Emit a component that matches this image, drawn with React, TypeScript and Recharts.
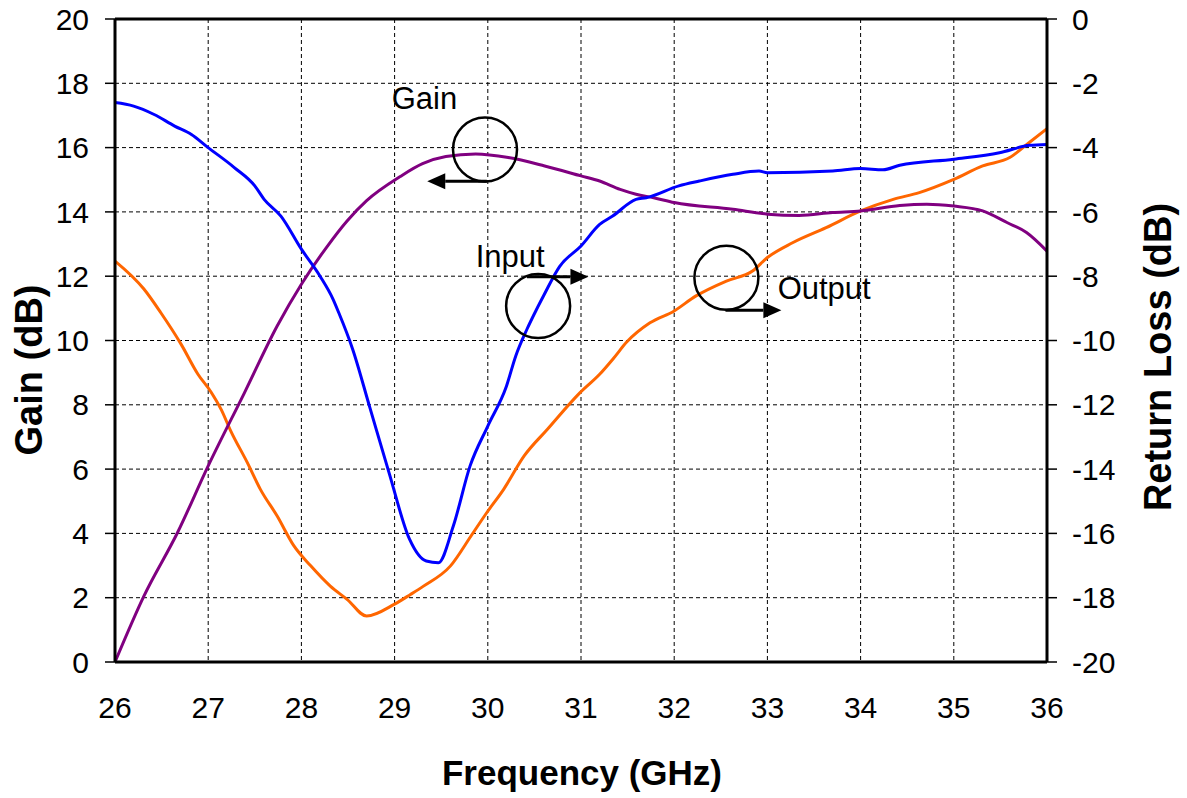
import React from 'react';
import {
  LineChart,
  Line,
  XAxis,
  YAxis,
  CartesianGrid,
  ReferenceLine,
  ReferenceDot,
} from 'recharts';

// frequency ticks (GHz)
const freqTicks = [26, 27, 28, 29, 30, 31, 32, 33, 34, 35, 36];
const gainTicks = [0, 2, 4, 6, 8, 10, 12, 14, 16, 18, 20];
const lossTicks = [-20, -18, -16, -14, -12, -10, -8, -6, -4, -2, 0];

// Gain (dB), left axis
const gainData = [
  { f: 26.0, v: 0 },
  { f: 26.31, v: 2.05 },
  { f: 26.67, v: 4.02 },
  { f: 27.0, v: 6.1 },
  { f: 27.39, v: 8.38 },
  { f: 27.74, v: 10.45 },
  { f: 28.0, v: 11.75 },
  { f: 28.27, v: 12.9 },
  { f: 28.49, v: 13.72 },
  { f: 28.7, v: 14.35 },
  { f: 29.06, v: 15.1 },
  { f: 29.3, v: 15.5 },
  { f: 29.55, v: 15.72 },
  { f: 29.87, v: 15.8 },
  { f: 30.22, v: 15.69 },
  { f: 30.61, v: 15.43 },
  { f: 31.0, v: 15.12 },
  { f: 31.2, v: 14.96 },
  { f: 31.42, v: 14.7 },
  { f: 31.59, v: 14.55 },
  { f: 31.78, v: 14.44 },
  { f: 32.0, v: 14.29 },
  { f: 32.63, v: 14.08 },
  { f: 33.0, v: 13.93 },
  { f: 33.34, v: 13.89 },
  { f: 33.7, v: 13.98 },
  { f: 34.0, v: 14.03 },
  { f: 34.42, v: 14.2 },
  { f: 34.71, v: 14.24 },
  { f: 35.0, v: 14.18 },
  { f: 35.31, v: 14.03 },
  { f: 35.57, v: 13.67 },
  { f: 35.78, v: 13.36 },
  { f: 36.0, v: 12.78 },
];

// Input return loss (dB), right axis
const inputData = [
  { f: 26.0, v: -2.6 },
  { f: 26.2, v: -2.71 },
  { f: 26.42, v: -2.97 },
  { f: 26.64, v: -3.33 },
  { f: 26.82, v: -3.59 },
  { f: 27.0, v: -4.0 },
  { f: 27.28, v: -4.62 },
  { f: 27.5, v: -5.19 },
  { f: 27.6, v: -5.61 },
  { f: 27.78, v: -6.13 },
  { f: 28.0, v: -7.16 },
  { f: 28.2, v: -8.0 },
  { f: 28.34, v: -8.72 },
  { f: 28.4, v: -9.13 },
  { f: 28.55, v: -10.27 },
  { f: 28.73, v: -12.04 },
  { f: 28.94, v: -14.11 },
  { f: 29.16, v: -16.18 },
  { f: 29.34, v: -16.86 },
  { f: 29.47, v: -16.91 },
  { f: 29.63, v: -15.77 },
  { f: 29.81, v: -13.9 },
  { f: 30.0, v: -12.66 },
  { f: 30.2, v: -11.42 },
  { f: 30.3, v: -10.48 },
  { f: 30.42, v: -9.65 },
  { f: 30.52, v: -9.05 },
  { f: 30.6, v: -8.6 },
  { f: 30.77, v: -7.7 },
  { f: 31.0, v: -7.06 },
  { f: 31.2, v: -6.39 },
  { f: 31.34, v: -6.13 },
  { f: 31.59, v: -5.61 },
  { f: 31.7, v: -5.56 },
  { f: 32.05, v: -5.19 },
  { f: 32.27, v: -5.04 },
  { f: 32.63, v: -4.83 },
  { f: 32.91, v: -4.73 },
  { f: 33.0, v: -4.78 },
  { f: 33.7, v: -4.73 },
  { f: 34.0, v: -4.65 },
  { f: 34.24, v: -4.69 },
  { f: 34.42, v: -4.55 },
  { f: 35.0, v: -4.36 },
  { f: 35.49, v: -4.16 },
  { f: 35.81, v: -3.93 },
  { f: 36.0, v: -3.9 },
];

// Output return loss (dB), right axis
const outputData = [
  { f: 26.0, v: -7.53 },
  { f: 26.31, v: -8.4 },
  { f: 26.49, v: -9.13 },
  { f: 26.71, v: -10.12 },
  { f: 26.89, v: -11.05 },
  { f: 27.03, v: -11.6 },
  { f: 27.14, v: -12.15 },
  { f: 27.24, v: -12.8 },
  { f: 27.42, v: -13.8 },
  { f: 27.56, v: -14.63 },
  { f: 27.74, v: -15.46 },
  { f: 27.92, v: -16.39 },
  { f: 28.1, v: -17.01 },
  { f: 28.31, v: -17.64 },
  { f: 28.49, v: -18.05 },
  { f: 28.7, v: -18.57 },
  { f: 29.0, v: -18.2 },
  { f: 29.17, v: -17.9 },
  { f: 29.31, v: -17.64 },
  { f: 29.6, v: -17.01 },
  { f: 29.82, v: -16.08 },
  { f: 29.99, v: -15.35 },
  { f: 30.17, v: -14.63 },
  { f: 30.39, v: -13.59 },
  { f: 30.64, v: -12.76 },
  { f: 30.99, v: -11.62 },
  { f: 31.2, v: -11.05 },
  { f: 31.35, v: -10.55 },
  { f: 31.49, v: -10.05 },
  { f: 31.74, v: -9.45 },
  { f: 32.0, v: -9.08 },
  { f: 32.23, v: -8.62 },
  { f: 32.56, v: -8.15 },
  { f: 32.84, v: -7.84 },
  { f: 33.0, v: -7.42 },
  { f: 33.27, v: -6.96 },
  { f: 33.63, v: -6.49 },
  { f: 34.0, v: -5.97 },
  { f: 34.35, v: -5.61 },
  { f: 34.63, v: -5.4 },
  { f: 35.0, v: -4.99 },
  { f: 35.31, v: -4.57 },
  { f: 35.6, v: -4.31 },
  { f: 35.81, v: -3.84 },
  { f: 36.0, v: -3.41 },
];

// annotation circles / arrows / labels, in (GHz, gain dB) coordinates
const circles = [
  { f: 29.97, v: 15.94 },
  { f: 30.54, v: 11.07 },
  { f: 32.56, v: 11.95 },
];
const arrows = [
  { f1: 29.99, f2: 29.35, v: 14.95 },
  { f1: 30.42, f2: 31.08, v: 11.98 },
  { f1: 32.55, f2: 33.15, v: 10.94 },
];
const notes = [
  { text: 'Gain', f: 29.32, v: 17.19, anchor: 'middle' },
  { text: 'Input', f: 30.24, v: 12.3, anchor: 'middle' },
  { text: 'Output', f: 33.11, v: 11.28, anchor: 'start' },
];

const FONT = '"Liberation Sans", Arial, sans-serif';
const tickStyle = { fontSize: 30, fill: '#000', fontFamily: FONT };
const noteStyle = { fontSize: 31, fill: '#000', fontFamily: FONT };
const titleStyle = { fontSize: 35, fontWeight: 700, fill: '#000', fontFamily: FONT };
const sideTitleStyle = { ...titleStyle, fontSize: 38 };

const Arrow = (props: any) => {
  const { x1, y1, x2, y2 } = props;
  const dir = x2 > x1 ? 1 : -1;
  const head = 18;
  const half = 8;
  const bx = x2 - dir * head;
  return (
    <g>
      <line x1={x1} y1={y1} x2={bx} y2={y2} stroke="#000" strokeWidth={3} />
      <polygon points={`${x2},${y2} ${bx},${y2 - half} ${bx},${y2 + half}`} fill="#000" />
    </g>
  );
};

export default function App() {
  return (
    <div style={{ position: 'absolute', left: 0, top: 0, background: '#fff' }}>
      <LineChart width={1187} height={798} margin={{ top: 19, right: 0, bottom: 0, left: 0 }}>
        <CartesianGrid
          xAxisId="x"
          yAxisId="left"
          stroke="#000"
          strokeWidth={1}
          strokeDasharray="4 3"
        />
        <XAxis
          xAxisId="x"
          dataKey="f"
          type="number"
          domain={[26, 36]}
          ticks={freqTicks}
          allowDataOverflow
          height={136}
          tickLine={false}
          tickSize={0}
          tickMargin={35}
          axisLine={{ stroke: '#000', strokeWidth: 3 }}
          tick={tickStyle}
          label={() => (
            <text x={582} y={785} textAnchor="middle" style={titleStyle}>
              Frequency (GHz)
            </text>
          )}
        />
        <YAxis
          yAxisId="left"
          orientation="left"
          type="number"
          domain={[0, 20]}
          ticks={gainTicks}
          width={115}
          tickSize={10}
          tickMargin={16}
          tickLine={{ stroke: '#000', strokeWidth: 1.5 }}
          axisLine={{ stroke: '#000', strokeWidth: 3 }}
          tick={tickStyle}
          label={() => (
            <text
              x={42}
              y={370}
              textAnchor="middle"
              transform="rotate(-90 42 370)"
              style={sideTitleStyle}
            >
              Gain (dB)
            </text>
          )}
        />
        <YAxis
          yAxisId="right"
          orientation="right"
          type="number"
          domain={[-20, 0]}
          ticks={lossTicks}
          width={140}
          tickSize={10}
          tickMargin={15}
          tickLine={{ stroke: '#000', strokeWidth: 1.5 }}
          axisLine={{ stroke: '#000', strokeWidth: 3 }}
          tick={tickStyle}
          label={() => (
            <text
              x={1171}
              y={357}
              textAnchor="middle"
              transform="rotate(-90 1171 357)"
              style={sideTitleStyle}
            >
              Return Loss (dB)
            </text>
          )}
        />
        <ReferenceLine xAxisId="x" yAxisId="left" y={20} stroke="#000" strokeWidth={3} />

        <Line
          xAxisId="x"
          yAxisId="right"
          data={outputData}
          dataKey="v"
          type="monotone"
          stroke="#FF6600"
          strokeWidth={3}
          dot={false}
          isAnimationActive={false}
        />
        <Line
          xAxisId="x"
          yAxisId="left"
          data={gainData}
          dataKey="v"
          type="monotone"
          stroke="#800080"
          strokeWidth={3}
          dot={false}
          isAnimationActive={false}
        />
        <Line
          xAxisId="x"
          yAxisId="right"
          data={inputData}
          dataKey="v"
          type="monotone"
          stroke="#0000FF"
          strokeWidth={3}
          dot={false}
          isAnimationActive={false}
        />

        {circles.map((c, i) => (
          <ReferenceDot
            key={`c${i}`}
            xAxisId="x"
            yAxisId="left"
            x={c.f}
            y={c.v}
            r={32}
            fill="none"
            stroke="#000"
            strokeWidth={2.5}
          />
        ))}
        {arrows.map((a, i) => (
          <ReferenceLine
            key={`a${i}`}
            xAxisId="x"
            yAxisId="left"
            segment={[
              { x: a.f1, y: a.v },
              { x: a.f2, y: a.v },
            ]}
            shape={Arrow}
          />
        ))}
        {notes.map((n, i) => (
          <ReferenceDot
            key={`n${i}`}
            xAxisId="x"
            yAxisId="left"
            x={n.f}
            y={n.v}
            r={1}
            shape={(p: any) => (
              <text x={p.cx} y={p.cy} textAnchor={n.anchor} style={noteStyle}>
                {n.text}
              </text>
            )}
          />
        ))}
      </LineChart>
    </div>
  );
}
